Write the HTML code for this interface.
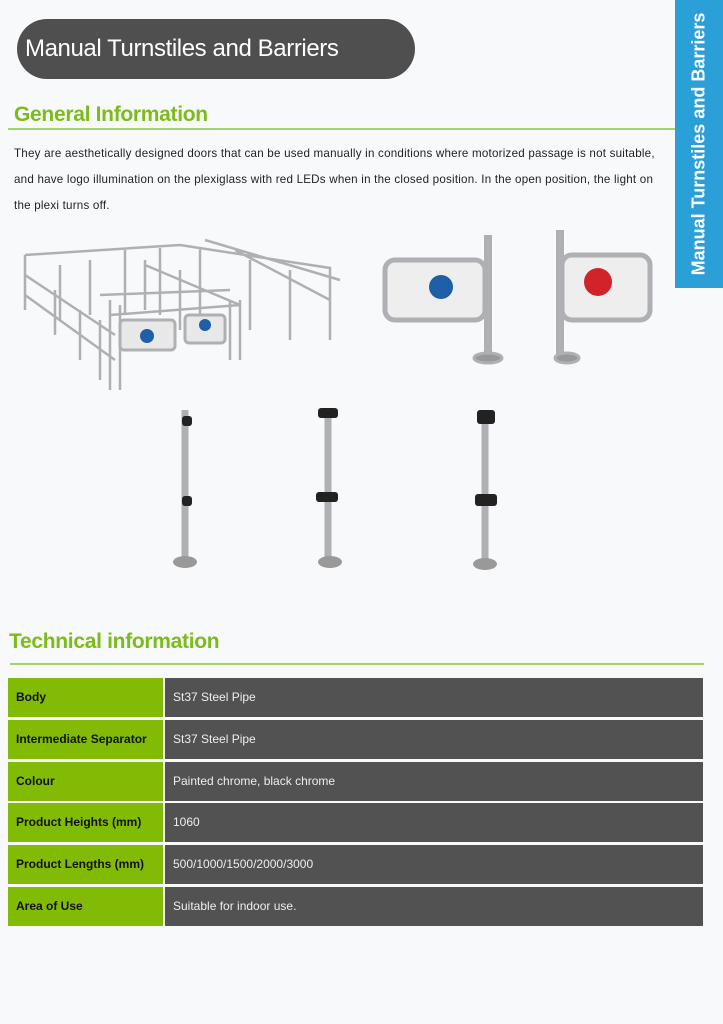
<!DOCTYPE html>
<html><head><meta charset="utf-8"><style>
body{margin:0;width:723px;height:1024px;background:#f8f9fb;position:relative;overflow:hidden;font-family:"Liberation Sans",sans-serif}
.pill{position:absolute;left:17px;top:19px;width:398px;height:60px;background:#4f4f4f;border-radius:30px}
.pill span{position:absolute;left:8px;top:16px;color:#fff;font-size:24px;letter-spacing:-0.4px;white-space:nowrap}
.tab{position:absolute;left:675px;top:0;width:48px;height:288px;background:#2b9fd8}
.tab span{position:absolute;left:24px;top:144px;transform:translate(-50%,-50%) rotate(-90deg);white-space:nowrap;color:#fff;font-size:18px;font-weight:bold}
h2{position:absolute;margin:0;color:#7cbc1a;font-weight:bold;font-size:21px;letter-spacing:-0.3px}
.line{position:absolute;height:1.5px;background:#a5d46a}
p{position:absolute;left:14px;top:141px;width:680px;margin:0;font-size:11.6px;line-height:26px;color:#222;white-space:nowrap;letter-spacing:0.22px}
.row{position:absolute;left:8px;width:695px;height:39px}
.row .a{position:absolute;left:0;top:0;width:155px;height:100%;background:#82bb05;font-size:12px;font-weight:bold;color:#111;line-height:39px;text-indent:8px}
.row .b{position:absolute;left:157px;top:0;right:0;height:100%;background:#525252;font-size:12px;color:#eee;line-height:39px;text-indent:8px}
</style></head><body>
<div class="pill"><span>Manual Turnstiles and Barriers</span></div>
<div class="tab"><span>Manual Turnstiles and Barriers</span></div>
<h2 style="left:14px;top:103px">General Information</h2>
<div class="line" style="left:8px;top:128px;width:667px"></div>
<p>They are aesthetically designed doors that can be used manually in conditions where motorized passage is not suitable,<br>and have logo illumination on the plexiglass with red LEDs when in the closed position. In the open position, the light on<br>the plexi turns off.</p>
<svg style="position:absolute;left:0;top:220px" width="723" height="360" stroke="#aeb0b3" fill="none" stroke-width="3">
<g stroke-width="2.5">
<path d="M25 35 L180 25 L330 48 L330 120 M25 35 L25 90 M25 55 L115 115 M25 75 L115 140 M60 45 L60 100 M90 40 L90 95 M125 30 L125 95 M160 28 L160 95 M200 28 L200 100 M205 20 L340 60 M250 40 L250 110 M290 50 L290 120 M235 30 L330 80 M145 45 L240 85 M145 40 L145 90 M180 50 L180 110 M110 80 L110 170 M120 85 L120 170 M230 80 L230 140 M240 80 L240 140 M110 95 L240 85 M100 75 L230 70"/>
<path d="M55 70 L55 115 M80 90 L80 140 M100 100 L100 160"/>
</g>
<rect x="120" y="100" width="55" height="30" rx="4" fill="#e8e8e8"/>
<rect x="185" y="95" width="40" height="28" rx="4" fill="#e8e8e8"/>
<circle cx="147" cy="116" r="7" fill="#1e5fa8" stroke="none"/>
<circle cx="205" cy="105" r="6" fill="#1e5fa8" stroke="none"/>
<rect x="385" y="40" width="100" height="60" rx="10" fill="#eee" stroke-width="5"/>
<circle cx="441" cy="67" r="12" fill="#1e5fa8" stroke="none"/>
<path d="M488 15 L488 135" stroke-width="8"/>
<ellipse cx="488" cy="138" rx="14" ry="5" fill="#999"/>
<rect x="562" y="35" width="88" height="65" rx="10" fill="#eee" stroke-width="5"/>
<circle cx="598" cy="62" r="14" fill="#d2232a" stroke="none"/>
<path d="M560 10 L560 135" stroke-width="8"/>
<ellipse cx="567" cy="138" rx="12" ry="5" fill="#999"/>
<g stroke-width="7">
<path d="M185 190 L185 340 M328 190 L328 340 M485 192 L485 340"/>
</g>
<g fill="#222" stroke="none">
<rect x="182" y="196" width="10" height="10" rx="3"/><rect x="182" y="276" width="10" height="10" rx="3"/>
<rect x="318" y="188" width="20" height="10" rx="3"/><rect x="316" y="272" width="22" height="10" rx="3"/>
<rect x="477" y="190" width="18" height="14" rx="3"/><rect x="475" y="274" width="22" height="12" rx="3"/>
</g>
<g fill="#999" stroke="none">
<ellipse cx="185" cy="342" rx="12" ry="6"/><ellipse cx="330" cy="342" rx="12" ry="6"/><ellipse cx="485" cy="344" rx="12" ry="6"/>
</g>
</svg>
<h2 style="left:9px;top:630px">Technical information</h2>
<div class="line" style="left:10px;top:663px;width:694px"></div>
<div class="row" style="top:678px"><div class="a">Body</div><div class="b">St37 Steel Pipe</div></div>
<div class="row" style="top:720px"><div class="a">Intermediate Separator</div><div class="b">St37 Steel Pipe</div></div>
<div class="row" style="top:762px"><div class="a">Colour</div><div class="b">Painted chrome, black chrome</div></div>
<div class="row" style="top:803px"><div class="a">Product Heights (mm)</div><div class="b">1060</div></div>
<div class="row" style="top:845px"><div class="a">Product Lengths (mm)</div><div class="b">500/1000/1500/2000/3000</div></div>
<div class="row" style="top:887px"><div class="a">Area of Use</div><div class="b">Suitable for indoor use.</div></div>
</body></html>
